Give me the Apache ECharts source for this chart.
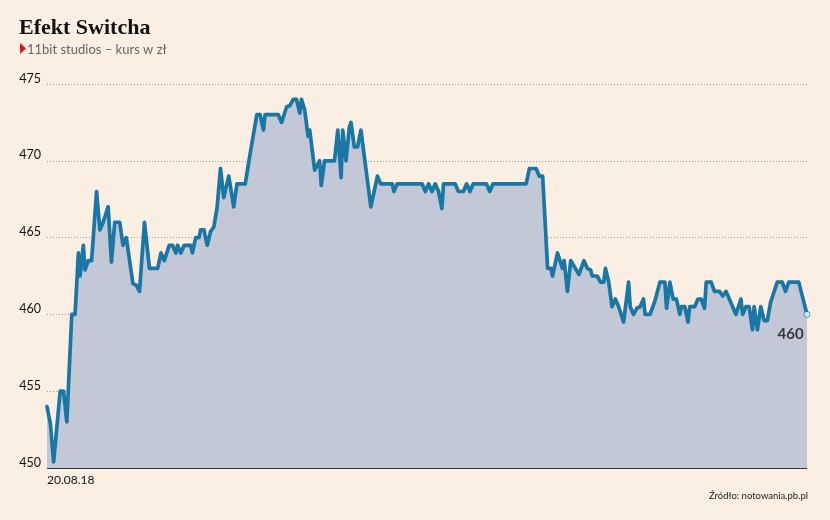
<!DOCTYPE html>
<html><head><meta charset="utf-8">
<script src="https://cdn.jsdelivr.net/npm/echarts@6/dist/echarts.min.js"></script>
<style>html,body{margin:0;padding:0;background:#fbeee2;}#c{width:830px;height:520px;}</style>
</head><body><div id="c"></div>
<script>
// time index within the session (0 = open) and price in zł
const ticks = [0,2,4,5,8,10,12,15,17,19,20,22,23,25,27,30,32,34,37,39,41,44,46,48,52,54,56,59,62,67,69,71,74,76,78,79,81,83,87,88,90,92,93,95,97,99,101,103,105,107,110,113,115,120,123,127,129,131,132,140,142,145,147,149,151,153,154,156,158,159,162,163,165,166,168,174,176,178,179,181,183,184,186,188,190,191,196,200,202,209,210,212,227,229,231,233,235,237,239,240,247,249,252,254,256,258,266,268,270,290,292,296,298,300,301,303,305,306,309,312,313,315,317,318,322,325,327,329,330,333,335,337,338,340,342,344,346,349,352,353,355,357,359,361,362,365,368,371,374,375,377,379,381,383,384,386,388,389,392,394,396,398,399,402,404,407,409,411,413,417,418,420,421,423,425,427,428,430,432,434,436,438,442,445,447,449,455,460];
const prices = [454.0,452.9,450.4,450.4,455.0,455.0,453.0,460.0,460.0,464.0,462.5,464.5,462.9,463.5,463.5,468.0,465.5,466.0,467.0,463.4,466.0,466.0,464.5,465.0,462.0,461.9,461.5,466.0,463.0,463.0,464.0,463.5,464.5,464.5,464.0,464.5,464.0,464.5,464.5,464.0,465.0,465.0,465.5,465.5,464.5,465.4,465.7,467.0,469.5,467.6,469.0,467.0,468.5,468.5,470.5,473.0,473.0,472.0,473.0,473.0,472.5,473.5,473.6,474.0,474.0,473.1,474.0,473.3,471.6,472.0,469.4,469.4,470.0,468.4,470.0,470.0,472.0,468.9,472.0,470.0,472.2,472.5,470.9,470.9,472.0,472.0,467.0,469.0,468.5,468.5,468.0,468.5,468.5,468.0,468.5,468.0,468.5,468.0,466.9,468.5,468.5,468.0,468.0,468.5,468.0,468.5,468.5,468.0,468.5,468.5,469.5,469.5,469.0,469.0,467.0,463.0,463.0,462.5,464.0,463.0,463.5,461.5,463.5,463.5,462.6,463.5,463.0,462.9,462.5,462.5,462.1,462.1,463.0,462.1,460.5,461.0,460.5,459.5,462.1,460.5,460.0,460.4,460.5,461.0,460.0,460.0,460.9,462.1,462.1,460.4,462.1,461.0,461.0,460.0,460.5,460.5,459.5,460.5,460.5,461.0,461.0,460.4,462.1,462.1,461.5,461.5,461.2,461.5,461.0,460.0,460.0,461.0,460.0,460.5,460.5,459.0,460.5,459.0,460.5,459.6,459.6,460.8,462.1,462.1,461.5,462.1,462.1,460.0];
const yTicks = [450,455,460,465,470,475];
const xTickLabels = {0:'20.08.18'};
const lastLabel = '460';

const lineColor = '#1877a4';
const pts = ticks.map((t,i)=>[t,prices[i]]);
const last = pts[pts.length-1];

const chart = echarts.init(document.getElementById('c'), null, {renderer:'canvas'});
chart.setOption({
  backgroundColor:'#fbeee2',
  animation:false,
  title:[
    {text:'Efekt Switcha', left:14, top:12, textStyle:{fontFamily:'Liberation Serif', fontWeight:'bold', fontSize:22, color:'#111'}},
    {text:'11bit studios – kurs w zł', left:22, top:38, textStyle:{fontFamily:'Lato', fontWeight:'normal', fontSize:13, color:'#666'}},
    {text:'Źródło: notowania.pb.pl', right:17, top:486, textStyle:{fontFamily:'Lato', fontWeight:'normal', fontSize:9.5, color:'#222'}}
  ],
  graphic:[{type:'polygon', shape:{points:[[20,43],[20,54],[26,48.5]]}, style:{fill:'#e0161b'}}],
  grid:{left:47, right:23, top:84, bottom:52},
  xAxis:{type:'value', min:0, max:460,
    axisLine:{show:false}, axisTick:{show:false}, splitLine:{show:false},
    axisLabel:{customValues:Object.keys(xTickLabels).map(Number), formatter:v=>xTickLabels[v]||'', align:'left', margin:6, fontFamily:'Lato', fontSize:12, color:'#111'}},
  yAxis:{type:'value', min:450, max:475, interval:5,
    axisLine:{show:false}, axisTick:{show:false},
    splitLine:{show:true, lineStyle:{type:[1,2], color:'#999', width:1}},
    axisLabel:{customValues:yTicks, margin:6, verticalAlign:'bottom', fontFamily:'Lato', fontSize:12.5, color:'#111', padding:[0,0,-1,0]}},
  series:[
    {type:'line', data:pts, showSymbol:false, symbol:'none',
     lineStyle:{color:lineColor, width:3.7, join:'round', cap:'round'},
     areaStyle:{color:'#c3c8d7', opacity:1, origin:'start'},
     markLine:{symbol:'none', silent:true, label:{show:false}, lineStyle:{color:'#333', type:'solid', width:1.2}, data:[{yAxis:450}]},
     z:2},
    {type:'scatter', data:[last], symbol:'circle', symbolSize:6,
     itemStyle:{color:'#fff', borderColor:lineColor, borderWidth:1},
     label:{show:true, formatter:lastLabel, position:[-26,16], fontFamily:'Lato', fontWeight:'bold', fontSize:15, color:'#111'},
     z:5}
  ]
});
</script></body></html>
